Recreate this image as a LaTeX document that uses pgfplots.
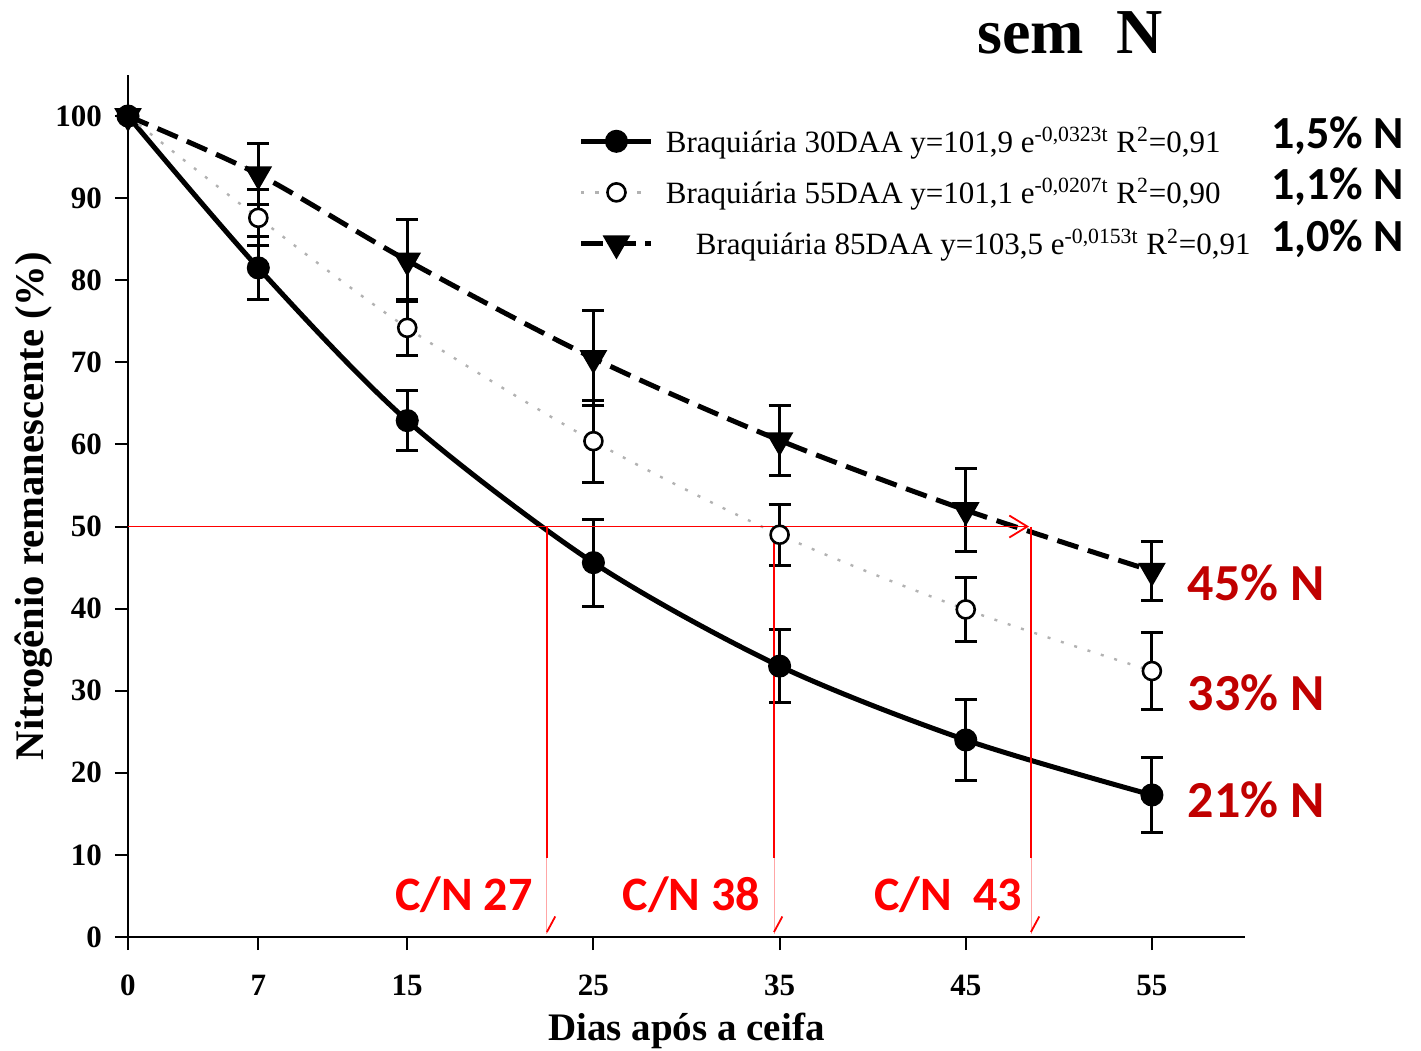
\documentclass[border=0pt]{standalone}
\usepackage{fontspec}
\setmainfont{Liberation Serif}
\newfontfamily\calibri{Carlito}
\usepackage{pgfplots}
\pgfplotsset{compat=1.18}
\usetikzlibrary{arrows.meta}
\definecolor{darkred}{RGB}{192,0,0}

\begin{document}
\begin{tikzpicture}
\begin{axis}[
  scale only axis,
  width=558.5pt, height=431pt,
  at={(0,0)}, anchor=south west,
  xmin=0, xmax=60, ymin=0, ymax=105,
  axis x line*=bottom, axis y line*=left,
  axis line style={line width=1pt},
  xtick={0,7,15,25,35,45,55},
  ytick={0,10,...,100},
  tick align=outside,
  major tick length=6.5pt,
  tick style={line width=1pt, black},
  /pgf/number format/assume math mode=true,
  tick label style={font=\fontsize{15.5}{15.5}\selectfont\bfseries},
  xticklabel style={yshift=-9pt},
  yticklabel style={xshift=-3pt},
  xlabel={Dias após a ceifa},
  ylabel={Nitrogênio remanescente (\%)},
  label style={font=\fontsize{19.5}{20}\selectfont\bfseries},
  xlabel style={at={(axis description cs:0.5,0)}, anchor=center, yshift=-47pt},
  ylabel style={font=\fontsize{20.3}{21}\selectfont\bfseries,
    at={(axis description cs:0,0.5)}, anchor=center, yshift=47pt},
  clip=false,
  legend style={at={(0.398,0.949)}, anchor=north west, draw=none, fill=none,
    font=\fontsize{15.5}{18}\selectfont, row sep=7.6pt},
  legend cell align=left,
  legend image code/.code={\draw[mark repeat=2,mark phase=2] plot coordinates {(0pt,0pt)(17.5pt,0pt)(35pt,0pt)};},
  error bars/error bar style={solid, draw=black, line width=1.5pt},
  error bars/error mark options={rotate=90, solid, draw=black, line width=1.5pt, mark size=5.5pt},
]
% error bars (drawn under the markers)
\addplot[only marks, mark=none, forget plot, error bars/.cd, y dir=both, y explicit]
  coordinates {(7,81.5) +- (0,3.8) (15,62.9) +- (0,3.7) (25,45.6) +- (0,5.3)
               (35,33.0) +- (0,4.4) (45,24.0) +- (0,4.9) (55,17.3) +- (0,4.6)};
\addplot[only marks, mark=none, forget plot, error bars/.cd, y dir=both, y explicit]
  coordinates {(7,87.6) +- (0,3.4) (15,74.2) +- (0,3.4) (25,60.4) +- (0,5.0)
               (35,49.0) +- (0,3.7) (45,39.9) +- (0,3.95) (55,32.4) +- (0,4.7)};
\addplot[only marks, mark=none, forget plot, error bars/.cd, y dir=both, y explicit]
  coordinates {(7,92.9) +- (0,3.7) (15,82.4) +- (0,5.0) (25,70.5) +- (0,5.8)
               (35,60.5) +- (0,4.3) (45,52.0) +- (0,5.1) (55,44.6) +- (0,3.6)};

\addplot[black, line width=2.5pt, smooth, mark=*, mark size=4.5pt, mark options={solid}]
  coordinates {(0,100) (7,81.5) (15,62.9) (25,45.6) (35,33.0) (45,24.0) (55,17.3)};
\addlegendentry{\hspace{4pt}Braquiária 30DAA y=101,9 e\textsuperscript{-0,0323t} R\textsuperscript{2}=0,91}

\addplot[gray!60, line width=1.2pt, dash pattern=on 1.5pt off 5.5pt, smooth,
  mark=*, mark size=4.5pt, mark options={solid, draw=black, fill=white, line width=1.3pt}]
  coordinates {(0,100) (7,87.6) (15,74.2) (25,60.4) (35,49.0) (45,39.9) (55,32.4)};
\addlegendentry{\hspace{4pt}Braquiária 55DAA y=101,1 e\textsuperscript{-0,0207t} R\textsuperscript{2}=0,90}

\addplot[black, line width=2.5pt, dash pattern=on 11pt off 5pt, smooth,
  mark=triangle*, mark size=5.5pt, mark options={solid, rotate=180}]
  coordinates {(0,100) (7,92.9) (15,82.4) (25,70.5) (35,60.5) (45,52.0) (55,44.6)};
\addlegendentry{\hspace{19pt}Braquiária 85DAA y=103,5 e\textsuperscript{-0,0153t} R\textsuperscript{2}=0,91}

% red guide lines
\addplot[red, line width=0.9pt, forget plot, -{Straight Barb[length=9pt,width=11pt]}]
  coordinates {(0,50) (48.4,50)};
\addplot[red, line width=0.9pt, forget plot] coordinates {(22.5,50) (22.5,9.6)};
\addplot[red, line width=0.9pt, forget plot] coordinates {(34.7,50) (34.7,9.6)};
\addplot[red, line width=0.9pt, forget plot] coordinates {(48.5,50) (48.5,9.6)};
\addplot[red!35, line width=0.4pt, forget plot] coordinates {(22.5,9.6) (22.5,0.4)};
\addplot[red!35, line width=0.4pt, forget plot] coordinates {(34.7,9.6) (34.7,0.4)};
\addplot[red!35, line width=0.4pt, forget plot] coordinates {(48.5,9.6) (48.5,0.4)};
\addplot[red, line width=0.9pt, forget plot] coordinates {(22.5,0.6) (22.95,2.5)};
\addplot[red, line width=0.9pt, forget plot] coordinates {(34.7,0.6) (35.15,2.5)};
\addplot[red, line width=0.9pt, forget plot] coordinates {(48.5,0.6) (48.95,2.5)};

% annotations
\node[font=\fontsize{32}{32}\selectfont\bfseries] at (axis cs:50.6,110.1) {sem\ \ N};
\begin{scope}[every node/.style={font=\calibri\bfseries\fontsize{23}{23}\selectfont, anchor=west, inner sep=0pt}]
\node at (axis cs:61.4,97.6) {1,5\% N};
\node at (axis cs:61.4,91.4) {1,1\% N};
\node at (axis cs:61.4,85.0) {1,0\% N};
\end{scope}
\begin{scope}[every node/.style={font=\calibri\bfseries\fontsize{26}{26}\selectfont, anchor=west, inner sep=0pt, text=darkred}]
\node at (axis cs:56.9,43.1) {45\% N};
\node at (axis cs:56.9,29.8) {33\% N};
\node at (axis cs:56.9,16.7) {21\% N};
\end{scope}
\begin{scope}[every node/.style={font=\calibri\bfseries\fontsize{24}{24}\selectfont, inner sep=0pt, text=red}]
\node at (axis cs:18.05,5.1) {C/N 27};
\node at (axis cs:30.26,5.1) {C/N 38};
\node at (axis cs:44.05,5.1) {C/N\ \ 43};
\end{scope}
\end{axis}
\pgfresetboundingbox
\useasboundingbox (-64pt,-57pt) rectangle (646.5pt,468.5pt);
\end{tikzpicture}
\end{document}
